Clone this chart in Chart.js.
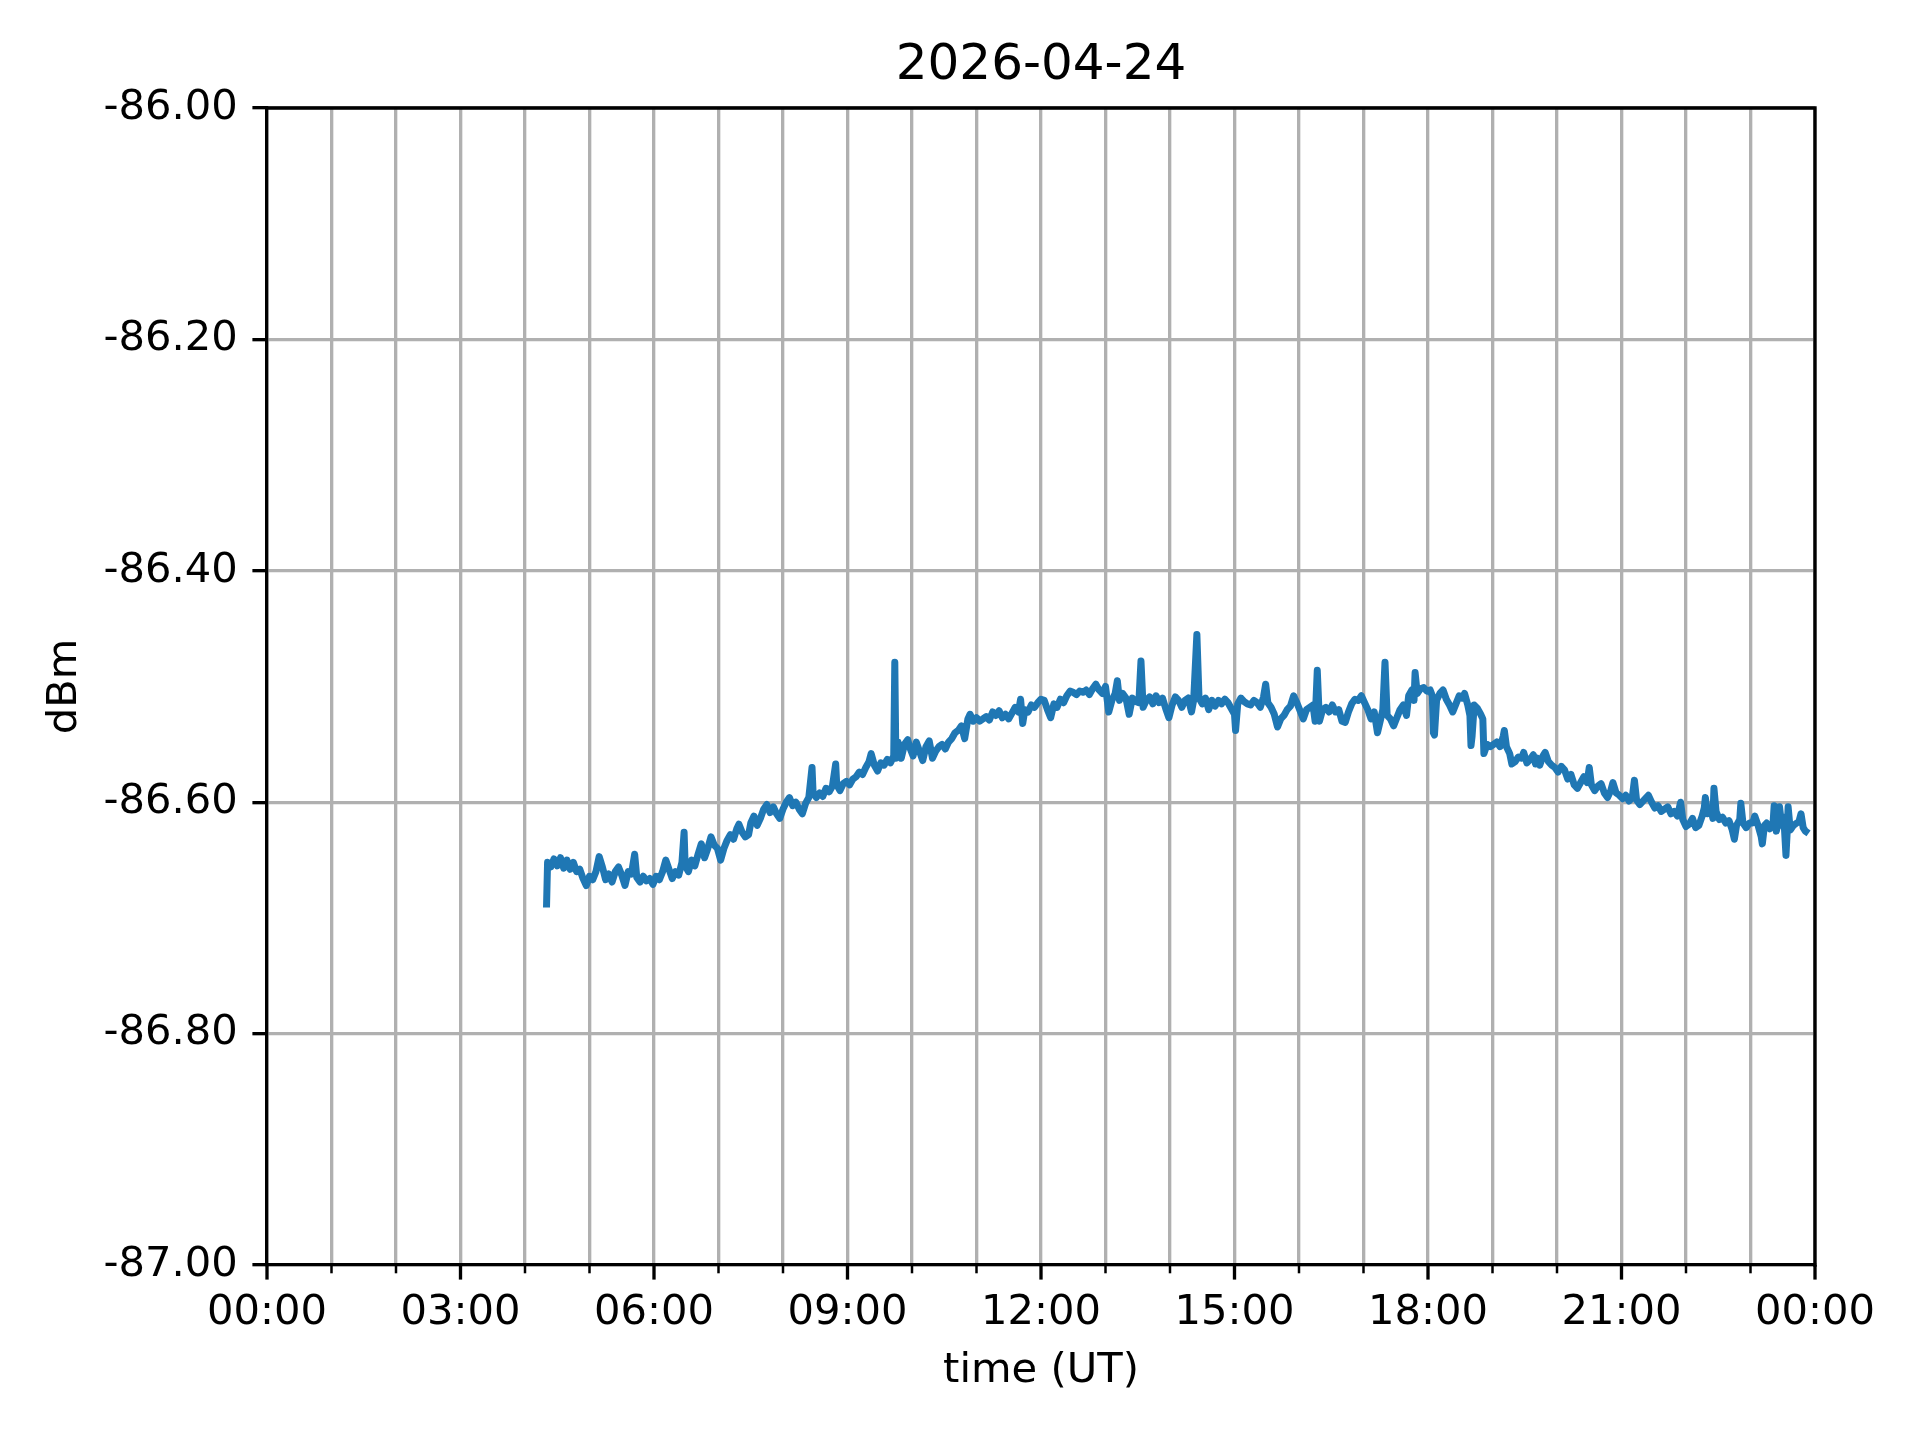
<!DOCTYPE html>
<html><head><meta charset="utf-8">
<script src="https://cdn.jsdelivr.net/npm/chart.js@4.4.1/dist/chart.umd.min.js"></script>
<style>html,body{margin:0;padding:0;background:#fff}#wrap{width:1920px;height:1440px}</style>
</head><body><div id="wrap"><canvas id="c" width="1920" height="1440"></canvas></div>
<script>
const chartTitle = '2026-04-24';
const xAxisTitle = 'time (UT)';
const yAxisTitle = 'dBm';
const xTickLabels = ['00:00','03:00','06:00','09:00','12:00','15:00','18:00','21:00','00:00'];
const yRange = [-87.0, -86.0];

const sampleTimes = [
 '4:20','4:21','4:24','4:27','4:30','4:33','4:36','4:39','4:42','4:45','4:48','4:51','4:54','4:57',
 '5:00','5:03','5:06','5:09','5:12','5:15','5:18','5:21','5:24','5:27','5:30','5:33','5:36','5:39','5:42','5:44','5:47','5:50','5:53','5:56','5:59',
 '6:02','6:05','6:08','6:11','6:14','6:17','6:20','6:23','6:26','6:28','6:29','6:32','6:35','6:38','6:41','6:44','6:47','6:50','6:53','6:56','6:59',
 '7:02','7:05','7:08','7:11','7:14','7:17','7:19','7:22','7:25','7:28','7:30','7:33','7:36','7:39','7:42','7:45','7:48','7:51','7:54','7:57',
 '8:00','8:03','8:06','8:09','8:12','8:15','8:18','8:21','8:24','8:27','8:28','8:31','8:34','8:37','8:40','8:43','8:46','8:49','8:50','8:53','8:56','8:59',
 '9:02','9:05','9:08','9:11','9:14','9:17','9:20','9:22','9:25','9:28','9:31','9:34','9:37','9:40','9:43','9:44','9:45','9:47','9:50','9:53','9:56','9:58',
 '10:01','10:04','10:07','10:10','10:13','10:16','10:19','10:22','10:25','10:28','10:31','10:34','10:37','10:40','10:43','10:46','10:49','10:52','10:54','10:57',
 '11:00','11:03','11:06','11:09','11:12','11:15','11:18','11:21','11:24','11:27','11:30','11:33','11:36','11:39','11:41','11:43','11:45','11:48','11:51','11:54','11:57',
 '12:00','12:03','12:06','12:09','12:12','12:15','12:18','12:21','12:24','12:27','12:30','12:33','12:36','12:39','12:42','12:45','12:48','12:51','12:54','12:57',
 '13:00','13:03','13:06','13:09','13:11','13:13','13:16','13:19','13:22','13:25','13:28','13:31','13:33','13:35','13:38','13:41','13:44','13:47','13:50','13:53','13:56','13:59',
 '14:02','14:05','14:08','14:11','14:14','14:17','14:20','14:22','14:25','14:27','14:30','14:33','14:36','14:39','14:42','14:45','14:48','14:51','14:54','14:57',
 '15:00','15:01','15:03','15:06','15:09','15:12','15:15','15:18','15:21','15:24','15:27','15:29','15:31','15:34','15:37','15:40','15:43','15:46','15:49','15:52','15:55','15:58',
 '16:01','16:04','16:07','16:10','16:13','16:15','16:17','16:19','16:22','16:25','16:28','16:31','16:34','16:37','16:40','16:43','16:46','16:49','16:52','16:55','16:58',
 '17:01','17:04','17:07','17:10','17:13','17:16','17:18','17:20','17:22','17:25','17:28','17:31','17:34','17:37','17:40','17:42','17:45','17:47','17:48','17:50','17:53','17:56','17:59',
 '18:02','18:04','18:05','18:06','18:08','18:11','18:14','18:17','18:20','18:23','18:26','18:29','18:32','18:34','18:37','18:39','18:40','18:41','18:43','18:46','18:49','18:51','18:52','18:55','18:58',
 '19:01','19:04','19:07','19:10','19:11','19:13','19:16','19:18','19:21','19:24','19:27','19:29','19:32','19:35','19:38','19:40','19:42','19:44','19:47','19:49','19:52','19:55','19:58',
 '20:01','20:04','20:07','20:10','20:13','20:16','20:19','20:22','20:25','20:28','20:30','20:32','20:35','20:38','20:41','20:44','20:47','20:50','20:52','20:55','20:58',
 '21:01','21:04','21:07','21:10','21:12','21:14','21:17','21:20','21:23','21:25','21:28','21:31','21:34','21:37','21:40','21:43','21:46','21:49','21:52','21:55','21:57',
 '22:00','22:03','22:06','22:09','22:12','22:15','22:17','22:18','22:20','22:23','22:25','22:26','22:28','22:31','22:34','22:37','22:40','22:43','22:45','22:47','22:50','22:51','22:53','22:56','22:59',
 '23:02','23:04','23:07','23:10','23:11','23:13','23:15','23:18','23:21','23:22','23:24','23:26','23:27','23:29','23:31','23:33','23:34','23:35','23:37','23:40','23:43','23:45','23:47','23:49','23:51','23:54'
];

const sampleDbm = [
 -86.691,-86.652,-86.656,-86.649,-86.655,-86.648,-86.657,-86.650,-86.658,-86.652,-86.660,-86.658,-86.666,-86.672,
 -86.664,-86.667,-86.660,-86.647,-86.656,-86.667,-86.662,-86.669,-86.660,-86.656,-86.663,-86.672,-86.660,-86.662,-86.645,-86.665,-86.669,-86.664,-86.668,-86.666,-86.671,
 -86.664,-86.667,-86.660,-86.650,-86.658,-86.666,-86.660,-86.663,-86.652,-86.626,-86.655,-86.660,-86.650,-86.655,-86.645,-86.636,-86.648,-86.640,-86.630,-86.637,-86.640,
 -86.650,-86.640,-86.633,-86.628,-86.632,-86.623,-86.619,-86.626,-86.630,-86.628,-86.618,-86.612,-86.620,-86.614,-86.606,-86.602,-86.609,-86.604,-86.610,-86.614,
 -86.606,-86.600,-86.596,-86.603,-86.600,-86.606,-86.610,-86.601,-86.596,-86.570,-86.592,-86.596,-86.592,-86.595,-86.588,-86.591,-86.586,-86.567,-86.585,-86.590,-86.584,-86.582,
 -86.585,-86.580,-86.578,-86.574,-86.576,-86.570,-86.565,-86.558,-86.568,-86.573,-86.566,-86.568,-86.563,-86.566,-86.560,-86.479,-86.562,-86.548,-86.562,-86.550,-86.546,-86.553,
 -86.560,-86.548,-86.556,-86.564,-86.552,-86.547,-86.562,-86.556,-86.552,-86.550,-86.554,-86.548,-86.545,-86.540,-86.538,-86.534,-86.545,-86.528,-86.524,-86.530,
 -86.527,-86.530,-86.528,-86.526,-86.529,-86.522,-86.525,-86.521,-86.527,-86.524,-86.528,-86.523,-86.518,-86.522,-86.511,-86.532,-86.520,-86.522,-86.516,-86.518,-86.514,
 -86.511,-86.512,-86.520,-86.527,-86.515,-86.518,-86.511,-86.514,-86.508,-86.504,-86.505,-86.507,-86.504,-86.505,-86.503,-86.507,-86.502,-86.498,-86.503,-86.506,
 -86.500,-86.522,-86.512,-86.506,-86.495,-86.512,-86.506,-86.510,-86.524,-86.510,-86.513,-86.514,-86.478,-86.518,-86.512,-86.509,-86.515,-86.508,-86.514,-86.510,-86.519,-86.527,
 -86.516,-86.509,-86.512,-86.518,-86.512,-86.510,-86.522,-86.512,-86.455,-86.510,-86.515,-86.510,-86.520,-86.512,-86.517,-86.512,-86.515,-86.511,-86.514,-86.519,
 -86.524,-86.538,-86.515,-86.510,-86.513,-86.515,-86.516,-86.512,-86.514,-86.518,-86.509,-86.498,-86.514,-86.518,-86.524,-86.535,-86.528,-86.525,-86.520,-86.517,-86.508,-86.514,
 -86.521,-86.528,-86.520,-86.518,-86.516,-86.530,-86.486,-86.530,-86.520,-86.518,-86.522,-86.516,-86.522,-86.520,-86.530,-86.531,-86.522,-86.515,-86.511,-86.512,-86.508,
 -86.514,-86.520,-86.528,-86.522,-86.540,-86.528,-86.520,-86.479,-86.525,-86.528,-86.534,-86.527,-86.520,-86.516,-86.525,-86.508,-86.503,-86.512,-86.488,-86.506,-86.502,-86.501,-86.504,
 -86.503,-86.508,-86.540,-86.542,-86.512,-86.506,-86.503,-86.511,-86.516,-86.522,-86.515,-86.508,-86.510,-86.506,-86.516,-86.525,-86.551,-86.543,-86.516,-86.519,-86.524,-86.528,-86.558,-86.550,-86.552,
 -86.550,-86.548,-86.552,-86.543,-86.538,-86.552,-86.558,-86.567,-86.565,-86.561,-86.562,-86.557,-86.566,-86.563,-86.559,-86.567,-86.562,-86.568,-86.560,-86.557,-86.565,-86.568,-86.570,
 -86.574,-86.569,-86.572,-86.580,-86.576,-86.585,-86.588,-86.583,-86.578,-86.583,-86.570,-86.585,-86.590,-86.586,-86.584,-86.592,-86.596,-86.590,-86.583,-86.592,-86.594,
 -86.597,-86.594,-86.599,-86.596,-86.581,-86.598,-86.602,-86.599,-86.596,-86.594,-86.600,-86.605,-86.603,-86.608,-86.606,-86.604,-86.610,-86.608,-86.612,-86.600,-86.615,
 -86.621,-86.619,-86.614,-86.622,-86.620,-86.612,-86.605,-86.596,-86.610,-86.605,-86.614,-86.588,-86.608,-86.615,-86.613,-86.618,-86.616,-86.624,-86.632,-86.620,-86.615,-86.601,-86.618,-86.622,-86.618,
 -86.618,-86.612,-86.620,-86.630,-86.636,-86.620,-86.618,-86.623,-86.618,-86.603,-86.625,-86.617,-86.604,-86.620,-86.613,-86.646,-86.628,-86.604,-86.624,-86.620,-86.618,-86.617,-86.610,-86.622,-86.625,-86.627
];

if (sampleTimes.length !== sampleDbm.length) console.warn('length mismatch', sampleTimes.length, sampleDbm.length);

function toHours(s) { const p = s.split(':'); return parseInt(p[0], 10) + parseInt(p[1], 10) / 60; }
const points = sampleTimes.map((t, i) => ({ x: toHours(t), y: sampleDbm[i] }));

const FONT = "'DejaVu Sans', 'Liberation Sans', sans-serif";
Chart.defaults.font.family = FONT;
Chart.defaults.color = '#000';

const framePlugin = {
  id: 'frame',
  afterDatasetsDraw(chart) {
    const { ctx, chartArea: a } = chart;
    const x = chart.scales.x;
    ctx.save();
    ctx.strokeStyle = '#000';
    ctx.lineWidth = 3.33;
    ctx.lineCap = 'square';
    ctx.beginPath();
    ctx.moveTo(a.left, a.top); ctx.lineTo(a.right, a.top); ctx.lineTo(a.right, a.bottom);
    ctx.stroke();
    ctx.lineCap = 'butt';
    x.ticks.forEach(t => {
      const px = x.getPixelForValue(t.value);
      const major = Math.round(t.value) % 3 === 0;
      ctx.lineWidth = major ? 3.33 : 2.5;
      ctx.beginPath();
      ctx.moveTo(px, a.bottom);
      ctx.lineTo(px, a.bottom + (major ? 14.6 : 8.3));
      ctx.stroke();
    });
    ctx.restore();
  }
};

new Chart(document.getElementById('c'), {
  type: 'line',
  data: {
    datasets: [{
      data: points,
      borderColor: '#1f77b4',
      borderWidth: 7,
      pointRadius: 0,
      tension: 0,
      borderJoinStyle: 'round',
      borderCapStyle: 'butt',
      fill: false
    }]
  },
  options: {
    responsive: false,
    animation: false,
    devicePixelRatio: 1,
    layout: { padding: { left: 0, right: 105, top: 0, bottom: 0 } },
    plugins: {
      legend: { display: false },
      tooltip: { enabled: false },
      title: {
        display: true,
        text: chartTitle,
        fullSize: false,
        color: '#000',
        font: { size: 50, weight: 'normal', family: FONT, lineHeight: 1.2 },
        padding: { top: 36, bottom: 12 }
      }
    },
    scales: {
      x: {
        type: 'linear',
        min: 0, max: 24,
        afterFit(scale) { scale.height = 175; },
        border: { display: true, color: '#000', width: 3.33 },
        grid: { color: '#b0b0b0', lineWidth: 3.33, drawTicks: false },
        ticks: {
          stepSize: 1,
          autoSkip: false,
          maxRotation: 0, minRotation: 0,
          padding: 23,
          color: '#000',
          font: { size: 41.67, family: FONT },
          callback: (v) => (Math.round(v) % 3 === 0 ? xTickLabels[Math.round(v) / 3] : '')
        },
        title: {
          display: true,
          text: xAxisTitle,
          color: '#000',
          font: { size: 41.67, family: FONT, lineHeight: 1.2 },
          padding: { top: 0, bottom: 44 }
        }
      },
      y: {
        type: 'linear',
        min: yRange[0], max: yRange[1],
        afterFit(scale) { scale.width = 267; },
        border: { display: true, color: '#000', width: 3.33 },
        grid: { color: '#b0b0b0', lineWidth: 3.33, drawTicks: true, tickLength: 14.6, tickColor: '#000', tickWidth: 3.33 },
        ticks: {
          stepSize: 0.2,
          padding: 14.6,
          color: '#000',
          font: { size: 41.67, family: FONT },
          callback: (v) => Number(v).toFixed(2)
        },
        title: {
          display: true,
          text: yAxisTitle,
          color: '#000',
          font: { size: 41.67, family: FONT, lineHeight: 1.2 },
          padding: { top: 40, bottom: 0 }
        }
      }
    }
  },
  plugins: [framePlugin]
});
</script>
</body></html>
